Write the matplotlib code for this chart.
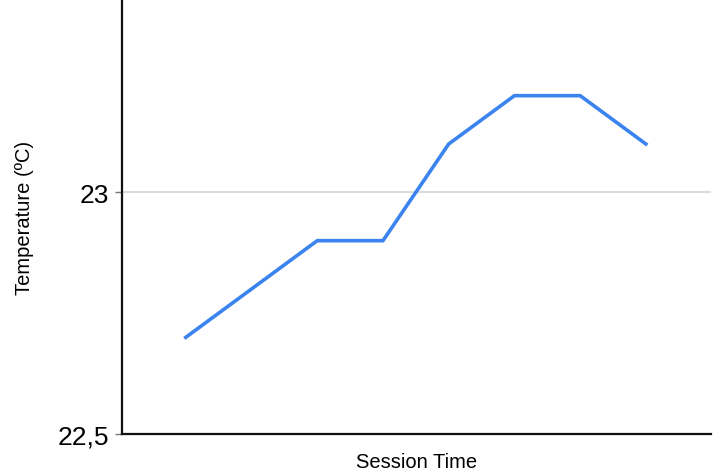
import matplotlib.pyplot as plt

plt.rcParams['font.family'] = ['Liberation Sans', 'DejaVu Sans']

# session time steps and temperature readings
session = [0, 1, 2, 3, 4, 5, 6, 7]
temperature = [22.7, 22.8, 22.9, 22.9, 23.1, 23.2, 23.2, 23.1]
ytick_vals = [22.5, 23.0]
ytick_labels = ["22,5", "23"]

fig = plt.figure(figsize=(7.24, 4.77), dpi=100)
ax = fig.add_axes([0.1685, 0.088, 0.8135, 0.912])

ax.axhline(23.0, color="#d4d4d4", lw=1.2, zorder=0)
ax.plot(session, temperature, color="#3b84ef", lw=2.6, solid_joinstyle="miter")

ax.set_xlim(-0.97, 7.99)
ax.set_ylim(22.5, 23.4)
ax.set_yticks(ytick_vals)
ax.set_yticklabels(ytick_labels, fontsize=19)
ax.set_xticks([])

for s in ["top", "right"]:
    ax.spines[s].set_visible(False)
for s in ["left", "bottom"]:
    ax.spines[s].set_linewidth(1.6)
    ax.spines[s].set_color("#111111")
ax.tick_params(axis="y", length=5, width=1, color="#777777", pad=4)

ax.set_xlabel("Session Time", fontsize=14.5, labelpad=13)
ax.set_ylabel("Temperature (ºC)", fontsize=14.5, labelpad=17)

fig.savefig("out.png", dpi=100)
